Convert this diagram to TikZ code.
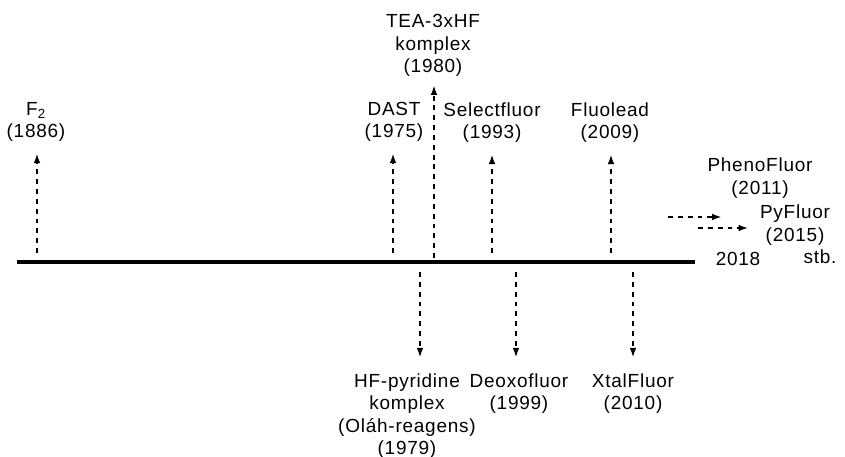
\documentclass[tikz,border=0pt]{standalone}
\usepackage{fontspec}
\setmainfont[LetterSpace=4]{Liberation Sans}
\usetikzlibrary{arrows.meta}
\begin{document}
\begin{tikzpicture}[x=0.025cm, y=-0.025cm,
    every node/.style={align=center, inner sep=0pt, font=\fontsize{13.5pt}{16pt}\selectfont},
    arr/.style={-{Latex[length=2.5mm, width=1.7mm]}, line width=1.5pt, dash pattern=on 3.5pt off 3.5pt},
    up/.style={arr, shorten >=0.28cm},
    down/.style={arr, shorten >=0.38cm},
    axis/.style={line width=2.8pt}]

        \useasboundingbox (0,0) rectangle (845,457);

        % ------------------ Time axis ------------------
        \coordinate (start) at (17,262);
        \coordinate (end) at (695,262);
        \draw[axis] (start) -- (end);

        \node (y2018) at (738,259) {2018};
        \node (etc) at (820,257) {stb.};

        % ------------------ Above the axis ------------------
        \node[anchor=south] (f2) at (36,142) {F\textsubscript{2}\\(1886)};
        \node[anchor=south] (dast) at (394,142) {DAST\\(1975)};
        \node[anchor=south] (tea) at (433,77) {TEA-3xHF\\komplex\\(1980)};
        \node[anchor=south] (select) at (492,143) {Selectfluor\\(1993)};
        \node[anchor=south] (fluolead) at (610,143) {Fluolead\\(2009)};

        \coordinate (f2b) at (37,253);
        \coordinate (dastb) at (393,253);
        \coordinate (teab) at (434,258);
        \coordinate (selectb) at (492,253);
        \coordinate (fluoleadb) at (611,253);

        \draw[up] (f2b) -- (f2b |- f2.south);
        \draw[up] (dastb) -- (dastb |- dast.south);
        \draw[arr, shorten >=0.2cm] (teab) -- (teab |- tea.south);
        \draw[up] (selectb) -- (selectb |- select.south);
        \draw[up] (fluoleadb) -- (fluoleadb |- fluolead.south);

        % ------------------ Below the axis ------------------
        \node[anchor=north] (hfpy) at (407,373) {HF-pyridine\\komplex\\(Oláh-reagens)\\(1979)};
        \node[anchor=north] (deoxo) at (519,373) {Deoxofluor\\(1999)};
        \node[anchor=north] (xtal) at (633,373) {XtalFluor\\(2010)};

        \coordinate (hfpyb) at (420,272);
        \coordinate (deoxob) at (516,272);
        \coordinate (xtalb) at (633,272);

        \draw[down] (hfpyb) -- (hfpyb |- hfpy.north);
        \draw[down] (deoxob) -- (deoxob |- deoxo.north);
        \draw[down] (xtalb) -- (xtalb |- xtal.north);

        % ------------------ After 2009 ------------------
        \node (pheno) at (760,178) {PhenoFluor\\(2011)};
        \node (pyfl) at (795,225) {PyFluor\\(2015)};

        \coordinate (a1) at (668,217);
        \coordinate (a1e) at (722,217);
        \coordinate (a2) at (698,228);

        \draw[arr] (a1) -- (a1e);
        \draw[arr, shorten >=0.28cm] (a2) -- (a2 -| pyfl.west);

\end{tikzpicture}
\end{document}
